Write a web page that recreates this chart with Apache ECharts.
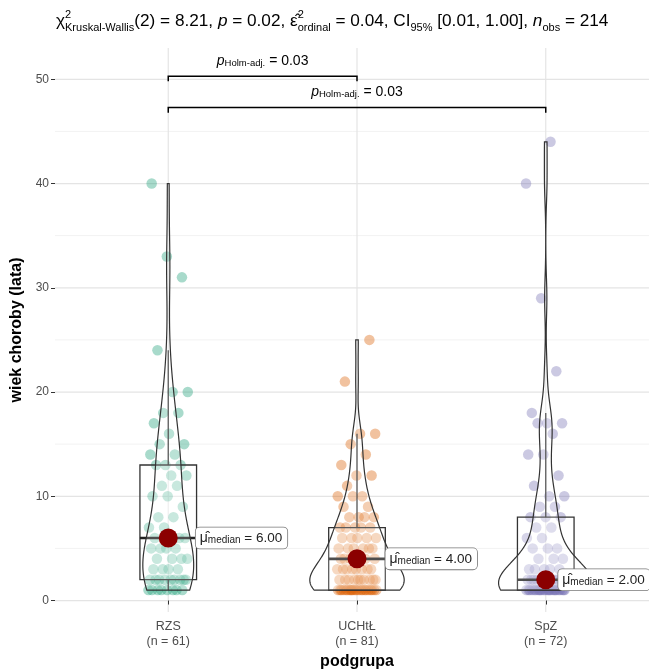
<!DOCTYPE html>
<html><head><meta charset="utf-8">
<script src="https://cdn.jsdelivr.net/npm/echarts@6/dist/echarts.min.js"></script>
<style>html,body{margin:0;padding:0;background:#fff}#c{width:649px;height:669px}</style>
</head><body><div id="c"></div>
<script>
// ---------------- data ----------------
const categories = ['RZS', 'UCHtŁ', 'SpZ'];
const rzsValues = [1,1,1,1,1,1,1,1, 2,2,2,2,2,2,2,2,2, 3,3,3,3, 4,4,4,4, 5,5,5,5, 6,6,6,6, 7,7, 8,8, 9, 10,10, 11,11, 12,12, 13,13,13, 14,14, 15,15, 16, 17, 18,18, 20,20, 24, 31, 33, 40];
const uchtlValues = [1,1,1,1,1,1,1,1,1,1,1,1,1,1,1,1,1,1,1,1,1,1, 2,2,2,2,2,2,2,2,2,2, 3,3,3,3,3,3,3,3, 4,4,4,4,4,4, 5,5,5,5,5,5, 6,6,6,6,6, 7,7,7,7,7, 8,8,8,8, 9,9, 10,10,10, 11, 12,12, 13, 14, 15, 16,16, 21, 25];
const spzValues = [1,1,1,1,1,1,1,1,1,1,1,1,1,1,1,1,1,1,1,1,1,1,1,1,1, 2,2,2,2,2,2,2,2,2,2,2,2, 3,3,3,3,3, 4,4,4, 5,5,5, 6,6, 7,7, 8,8,8, 9,9, 10,10, 11, 12, 14,14, 16, 17,17,17, 18, 22, 29, 40, 44];
const yTicks = [0, 10, 20, 30, 40, 50];
const yMinorTicks = [5, 15, 25, 35, 45];
const bracketPairs = [[1, 2], [1, 3]];
const bracketLevels = [50.3, 47.3];
const bracketPLabels = ['0.03', '0.03'];
const colors = ['#1B9E77', '#D95F02', '#7570B3'];

// ---------------- stats ----------------
const groups = [rzsValues, uchtlValues, spzValues];
function quantile(s, p) { const h = (s.length - 1) * p; const lo = Math.floor(h); const hi = Math.min(lo + 1, s.length - 1); return s[lo] + (h - lo) * (s[hi] - s[lo]); }
const stats = groups.map(v => {
  const s = [...v].sort((a, b) => a - b);
  const q1 = quantile(s, .25), med = quantile(s, .5), q3 = quantile(s, .75);
  const iqr = q3 - q1;
  const lo = s.find(x => x >= q1 - 1.5 * iqr);
  const hi = [...s].reverse().find(x => x <= q3 + 1.5 * iqr);
  return { q1, med, q3, lo, hi };
});
function kde(v) {
  const n = v.length; const mean = v.reduce((a, b) => a + b, 0) / n;
  const sd = Math.sqrt(v.reduce((a, b) => a + (b - mean) ** 2, 0) / (n - 1));
  const s = [...v].sort((a, b) => a - b);
  const iqr = quantile(s, .75) - quantile(s, .25);
  let lo = Math.min(sd, iqr / 1.34); if (!(lo > 0)) lo = sd;
  const bw = 0.9 * lo * Math.pow(n, -0.2);
  const mn = s[0], mx = s[n - 1]; const out = [];
  for (let i = 0; i < 512; i++) {
    const y = mn + (mx - mn) * i / 511; let d = 0;
    for (const xi of v) { const z = (y - xi) / bw; d += Math.exp(-0.5 * z * z); }
    out.push([y, d / (n * bw * Math.sqrt(2 * Math.PI))]);
  }
  return out;
}
const dens = groups.map(kde);
const maxD = Math.max(...dens.map(d => Math.max(...d.map(p => p[1]))));

// deterministic jitter
function jitter(i, g) { const f = (i * 0.6180339887 + g * 0.37) % 1; return (f - 0.5) * 0.21; }

const FONT = '"Liberation Sans", Arial, sans-serif';
const chart = echarts.init(document.getElementById('c'), null, { renderer: 'canvas' });

const pointSeries = groups.map((v, g) => ({
  type: 'scatter', z: 2, silent: true,
  data: v.map((y, i) => [g + 1 + jitter(i, g), y]),
  symbolSize: 10.5,
  itemStyle: { color: colors[g], opacity: 0.38 }
}));

const option = {
  animation: false,
  textStyle: { fontFamily: FONT },
  grid: { left: 55, right: -10, top: 48, bottom: 57, outerBoundsMode: 'none', containLabel: false },
  xAxis: {
    type: 'value', min: 0.4, max: 3.6,
    name: 'podgrupa', nameLocation: 'middle', nameGap: 39,
    nameTextStyle: { fontWeight: 'bold', fontSize: 16, color: '#000', fontFamily: FONT },
    axisLine: { show: false }, splitLine: { show: false },
    axisTick: { show: true, customValues: [1, 2, 3], length: 4, lineStyle: { color: '#333' } },
    axisLabel: { customValues: [1, 2, 3], margin: 7, color: '#4d4d4d', fontSize: 12.5, lineHeight: 15, fontFamily: FONT,
      formatter: v => categories[v - 1] + '\n(n = ' + groups[v - 1].length + ')' }
  },
  yAxis: {
    type: 'value', min: -1.1, max: 53,
    name: 'wiek choroby (lata)', nameLocation: 'middle', nameGap: 29,
    nameTextStyle: { fontWeight: 'bold', fontSize: 16, color: '#000', fontFamily: FONT },
    axisLine: { show: false }, splitLine: { show: false },
    axisTick: { show: true, customValues: yTicks, length: 4, lineStyle: { color: '#333' } },
    axisLabel: { customValues: yTicks, margin: 6, color: '#4d4d4d', fontSize: 12, fontFamily: FONT }
  },
  graphic: [{
    type: 'text', left: 56, top: 9,
    style: {
      text: '{n|χ}{sup0|2}{sub|Kruskal-Wallis}{n|(2) = 8.21, }{it|p}{n| = 0.02, }{n|ε̂}{sup0|2}{sub|ordinal}{n| = 0.04, CI}{sub|95%}{n| [0.01, 1.00], }{it|n}{sub|obs}{n| = 214}',
      fill: '#000',
      rich: {
        n: { fontSize: 17.2, fontFamily: FONT, lineHeight: 24, verticalAlign: 'middle' },
        it: { fontSize: 17.2, fontFamily: FONT, fontStyle: 'italic', lineHeight: 24, verticalAlign: 'middle' },
        sup0: { fontSize: 11, fontFamily: FONT, width: 0, lineHeight: 11, verticalAlign: 'top' },
        sub: { fontSize: 11, fontFamily: FONT, lineHeight: 11, verticalAlign: 'bottom' }
      }
    }
  }],
  series: [
    // gridlines
    {
      type: 'custom', z: 0, silent: true, data: [[1, 0]],
      renderItem: (params, api) => {
        const cs = params.coordSys; const children = [];
        yMinorTicks.forEach(t => { const p = api.coord([1, t]); children.push({ type: 'line', shape: { x1: cs.x, y1: p[1], x2: cs.x + cs.width, y2: p[1] }, style: { stroke: '#f2f2f2', lineWidth: 1 } }); });
        yTicks.forEach(t => { const p = api.coord([1, t]); children.push({ type: 'line', shape: { x1: cs.x, y1: p[1], x2: cs.x + cs.width, y2: p[1] }, style: { stroke: '#e4e4e4', lineWidth: 1.2 } }); });
        [1, 2, 3].forEach(c => { const p = api.coord([c, 0]); children.push({ type: 'line', shape: { x1: p[0], y1: cs.y, x2: p[0], y2: cs.y + cs.height }, style: { stroke: '#e4e4e4', lineWidth: 1.2 } }); });
        return { type: 'group', children };
      }
    },
    ...pointSeries,
    // boxplots
    {
      type: 'custom', z: 3, silent: true, data: [[1, 0], [2, 0], [3, 0]],
      renderItem: (params, api) => {
        const c = api.value(0); const s = stats[c - 1];
        const tl = api.coord([c - 0.15, s.q3]), br = api.coord([c + 0.15, s.q1]);
        const m1 = api.coord([c - 0.15, s.med]), m2 = api.coord([c + 0.15, s.med]);
        const wTop = api.coord([c, s.hi]), wQ3 = api.coord([c, s.q3]), wQ1 = api.coord([c, s.q1]), wLo = api.coord([c, s.lo]);
        return { type: 'group', children: [
          { type: 'line', shape: { x1: wQ3[0], y1: wQ3[1], x2: wTop[0], y2: wTop[1] }, style: { stroke: '#333', lineWidth: 1.3 } },
          { type: 'line', shape: { x1: wQ1[0], y1: wQ1[1], x2: wLo[0], y2: wLo[1] }, style: { stroke: '#333', lineWidth: 1.3 } },
          { type: 'rect', shape: { x: tl[0], y: tl[1], width: br[0] - tl[0], height: br[1] - tl[1] }, style: { fill: 'rgba(255,255,255,0.2)', stroke: '#333', lineWidth: 1.3 } },
          { type: 'line', shape: { x1: m1[0], y1: m1[1], x2: m2[0], y2: m2[1] }, style: { stroke: '#222', lineWidth: 2.6 } }
        ] };
      }
    },
    // violins
    {
      type: 'custom', z: 4, silent: true, data: [[1, 0], [2, 0], [3, 0]],
      renderItem: (params, api) => {
        const c = api.value(0); const d = dens[c - 1]; const pts = [];
        for (const [y, v] of d) pts.push(api.coord([c + v / maxD * 0.25, y]));
        for (let i = d.length - 1; i >= 0; i--) pts.push(api.coord([c - d[i][1] / maxD * 0.25, d[i][0]]));
        return { type: 'polygon', shape: { points: pts }, style: { fill: 'rgba(255,255,255,0.2)', stroke: '#333', lineWidth: 1.2 } };
      }
    },
    // medians
    {
      type: 'scatter', z: 6, silent: true,
      data: stats.map((s, g) => ({ value: [g + 1, s.med], label: { distance: [18, 19, 3][g] } })),
      symbolSize: 19, itemStyle: { color: '#8B0000', opacity: 1 },
      label: {
        show: true, position: 'right', color: '#222',
        formatter: p => '{mu|μ̂}{sub|median}{eq| = ' + p.value[1].toFixed(2) + '}',
        backgroundColor: '#fff', borderColor: '#777', borderWidth: 0.8, borderRadius: 4, padding: [4, 5, 3, 4],
        rich: {
          mu: { fontSize: 14, fontFamily: FONT, color: '#222', verticalAlign: 'middle' },
          sub: { fontSize: 10, fontFamily: FONT, color: '#222', verticalAlign: 'bottom' },
          eq: { fontSize: 13.5, fontFamily: FONT, color: '#222', verticalAlign: 'middle' }
        }
      }
    },
    // significance brackets
    {
      type: 'custom', z: 7, silent: true, data: bracketPairs.map((b, i) => [b[0], bracketLevels[i], b[1], i]),
      renderItem: (params, api) => {
        const a = api.value(0), y = api.value(1), b = api.value(2), i = api.value(3);
        const p1 = api.coord([a, y - 0.5]), p2 = api.coord([a, y]), p3 = api.coord([b, y]), p4 = api.coord([b, y - 0.5]);
        const mid = api.coord([(a + b) / 2, y]);
        return { type: 'group', children: [
          { type: 'polyline', shape: { points: [p1, p2, p3, p4] }, style: { stroke: '#000', lineWidth: 1.5, fill: null } },
          { type: 'text', x: mid[0], y: mid[1] - 15, style: {
            text: '{it|p}{sub|Holm-adj.}{n| = ' + bracketPLabels[i] + '}', align: 'center', verticalAlign: 'middle', fill: '#000',
            rich: {
              it: { fontSize: 14, fontFamily: FONT, fontStyle: 'italic', verticalAlign: 'middle' },
              sub: { fontSize: 9.5, fontFamily: FONT, verticalAlign: 'bottom' },
              n: { fontSize: 14, fontFamily: FONT, verticalAlign: 'middle' }
            } } }
        ] };
      }
    }
  ]
};
chart.setOption(option);
</script></body></html>
